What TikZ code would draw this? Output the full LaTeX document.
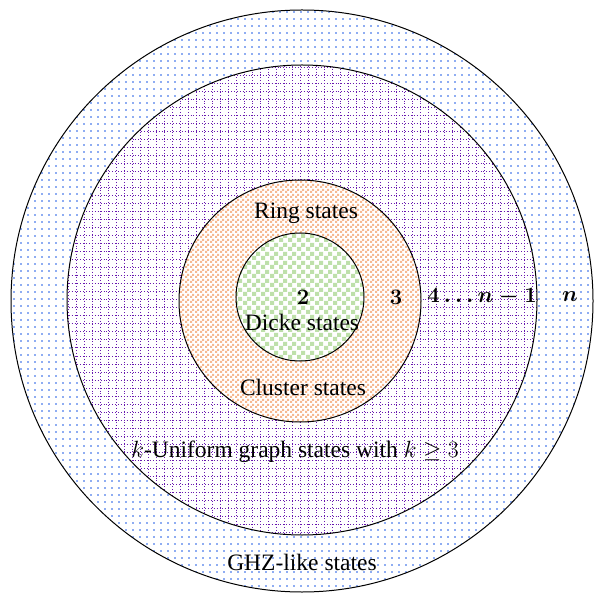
\RequirePackage{fix-cm}
\documentclass[tikz,border=0pt]{standalone}
\usepackage{amsmath}
\usepackage{fontspec}
\setmainfont{Liberation Serif}
\usetikzlibrary{patterns,patterns.meta}
\definecolor{dotblue}{RGB}{30,90,230}
\definecolor{gridpurple}{RGB}{105,25,175}
\definecolor{checkorange}{RGB}{246,185,145}
\definecolor{checkgreen}{RGB}{190,224,170}
\pgfdeclarepatternformonly{orchk}{\pgfqpoint{0pt}{0pt}}{\pgfqpoint{5pt}{5pt}}{\pgfqpoint{5pt}{5pt}}{%
  \pgfpathrectangle{\pgfqpoint{0pt}{0pt}}{\pgfqpoint{2.5pt}{2.5pt}}%
  \pgfpathrectangle{\pgfqpoint{2.5pt}{2.5pt}}{\pgfqpoint{2.5pt}{2.5pt}}%
  \pgfusepath{fill}}
\pgfdeclarepatternformonly{grchk}{\pgfqpoint{0pt}{0pt}}{\pgfqpoint{9pt}{9pt}}{\pgfqpoint{9pt}{9pt}}{%
  \pgfpathrectangle{\pgfqpoint{0pt}{0pt}}{\pgfqpoint{4.5pt}{4.5pt}}%
  \pgfpathrectangle{\pgfqpoint{4.5pt}{4.5pt}}{\pgfqpoint{4.5pt}{4.5pt}}%
  \pgfusepath{fill}}
\tikzset{
  ring/.style={draw=black, line width=1pt},
  lbl/.style={font=\fontsize{23.5}{27}\selectfont, inner sep=0pt},
  numlbl/.style={font=\fontsize{22}{26}\selectfont\bfseries\boldmath, inner sep=0pt},
  gridline/.style={gridpurple, line width=1pt, dash pattern=on 1pt off 1.9pt}
}
\begin{document}
\begin{tikzpicture}[x=1pt,y=-1pt]
\useasboundingbox (0,0) rectangle (594,593);
% outer GHZ circle
\fill[white] (302,301) circle (291);
\fill[pattern={Dots[distance=7pt,radius=0.8pt]}, pattern color=dotblue] (302,301) circle (291);
\draw[ring] (302,301) circle (291);
% purple circle
\fill[white] (302,300) circle (235);
\begin{scope}
  \clip (302,300) circle (235);
  \foreach \i in {0,...,60} {
    \draw[gridline] (60+8*\i,60) -- (60+8*\i,545);
    \draw[gridline] (60,60+8*\i) -- (545,60+8*\i);
  }
\end{scope}
\draw[ring] (302,300) circle (235);
% orange circle
\fill[white] (300,301) circle (121);
\fill[pattern=orchk, pattern color=checkorange] (300,301) circle (121);
\draw[ring] (300,301) circle (121);
% green circle
\fill[white] (300,297) circle (64);
\fill[pattern=grchk, pattern color=checkgreen] (300,297) circle (64);
\draw[ring] (300,297) circle (64);
% labels
\node[lbl] (ring) at (306,213) {Ring states};
\node[numlbl] (two) at (303,297) {$2$};
\node[lbl] (dicke) at (302,322) {Dicke states};
\node[lbl] (cluster) at (303,387) {Cluster states};
\node[numlbl] (three) at (396,297) {$3$};
\node[numlbl] (four) at (482,297) {$4\ldots n-1$};
\node[numlbl] (n) at (570,297) {$n$};
\node[lbl] (kuni) at (295,452) {$k$-Uniform graph states with $k\geq 3$};
\node[lbl] (ghz) at (302,562) {GHZ-like states};
\end{tikzpicture}
\end{document}
